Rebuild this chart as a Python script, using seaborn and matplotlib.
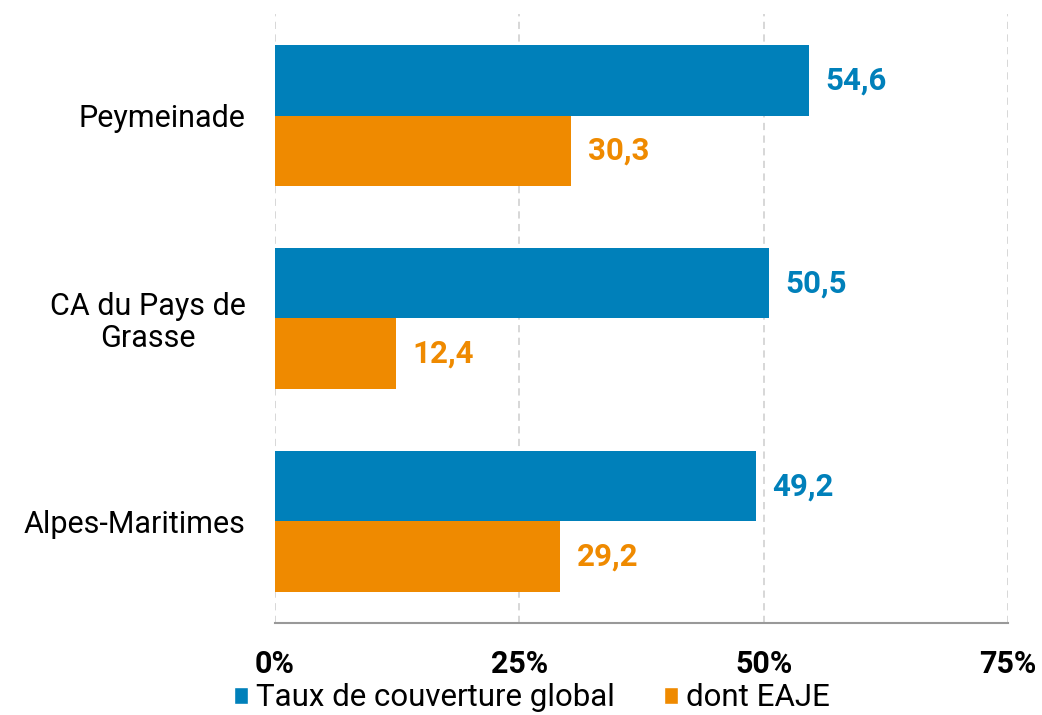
import matplotlib
matplotlib.use("Agg")
import matplotlib.pyplot as plt
from matplotlib.patches import Patch
import pandas as pd
import seaborn as sns

# Taux de couverture (%)
territoires = ["Peymeinade", "CA du Pays de\nGrasse", "Alpes-Maritimes"]
series = ["Taux de couverture global", "dont EAJE"]
taux_global = [54.6, 50.5, 49.2]
taux_eaje = [30.3, 12.4, 29.2]
x_ticks = [0, 25, 50, 75]
x_tick_labels = ["0%", "25%", "50%", "75%"]

blue = "#0080BA"
orange = "#EF8A00"

df = pd.DataFrame({
    "territoire": territoires * 2,
    "serie": [series[0]] * 3 + [series[1]] * 3,
    "valeur": taux_global + taux_eaje,
})

sns.set_style("white")
plt.rcParams["font.family"] = ["Roboto", "DejaVu Sans"]
plt.rcParams["text.color"] = "black"
plt.rcParams["xtick.labelcolor"] = "black"
plt.rcParams["ytick.labelcolor"] = "black"

fig = plt.figure(figsize=(10.42, 7.15), dpi=100)
ax = fig.add_axes([0.2639, 0.1287, 0.7035, 0.8517])

sns.barplot(data=df, y="territoire", x="valeur", hue="serie", orient="h",
            palette=[blue, orange], width=0.69, saturation=1, legend=False,
            linewidth=0, ax=ax)

for cont, col in zip(ax.containers, [blue, orange]):
    ax.bar_label(cont, labels=[f"{v:.1f}".replace(".", ",") for v in cont.datavalues],
                 padding=12, color=col, fontsize=22.5, fontweight="bold")

ax.set_xlim(0, 75)
ax.set_ylim(2.5, -0.5)
ax.set_xticks(x_ticks)
ax.set_xticklabels(x_tick_labels, fontsize=22, fontweight="bold")
ax.set_yticks(range(len(territoires)))
ax.set_yticklabels(territoires, fontsize=22, multialignment="center", linespacing=1.1)
ax.set_xlabel("")
ax.set_ylabel("")

ax.xaxis.grid(True, linestyle=(0, (4, 3)), color="#d4d4d4", linewidth=1.3)
ax.set_axisbelow(True)
for s in ["left", "right", "top"]:
    ax.spines[s].set_visible(False)
ax.spines["bottom"].set_color("#999999")
ax.spines["bottom"].set_linewidth(1.5)
ax.tick_params(axis="x", direction="out", length=7, width=1.5, color="#999999", pad=12)
ax.tick_params(axis="y", length=0, pad=21)

handles = [Patch(facecolor=blue), Patch(facecolor=orange)]
fig.legend(handles, series, loc="center", bbox_to_anchor=(0.5106, 0.024), ncol=2,
           frameon=False, fontsize=22.5, handlelength=0.45, handleheight=0.45,
           handletextpad=0.26, columnspacing=1.55, borderpad=0, borderaxespad=0)

fig.savefig("out.png", dpi=100)
